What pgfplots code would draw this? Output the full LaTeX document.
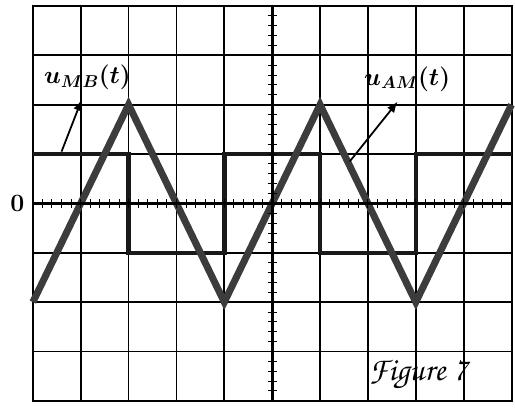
\documentclass[border=0pt]{standalone}
\usepackage{pgfplots}
\pgfplotsset{compat=1.18}
\usepackage{amsmath,bm}
\usetikzlibrary{arrows.meta}
\definecolor{trace}{HTML}{3C3C3C}
\begin{document}
\begin{tikzpicture}
% screen grid with the traces
\begin{axis}[
  x=48.1pt, y=49.6pt,
  xmin=0, xmax=10, ymin=-4, ymax=4,
  xtick={0,...,10}, ytick={-4,...,4},
  xticklabels={}, yticklabels={},
  major tick length=0pt,
  grid=major,
  grid style={black, line width=1.8pt},
  axis line style={black, line width=2pt},
  clip=false,
]
% u_MB(t): square wave
\addplot[color=black!90, line width=4.5pt] coordinates {
  (0,1) (2,1) (2,-1) (4,-1) (4,1) (6,1) (6,-1) (8,-1) (8,1) (10,1)};
% u_AM(t): triangle wave
\addplot[color=trace, line width=7pt] coordinates {
  (0,-2) (2,2) (4,-2) (6,2) (8,-2) (10,2)};

\draw[-{Latex[length=11pt,width=9pt]}, line width=1.8pt] (axis cs:0.6,1.05) -- (axis cs:1.02,2.1);
\draw[-{Latex[length=11pt,width=9pt]}, line width=1.8pt] (axis cs:6.62,0.85) -- (axis cs:7.62,2.06);
\node[font=\fontsize{25}{27}\selectfont] at (axis cs:1.14,2.55) {$\bm{u_{MB}(t)}$};
\node[font=\fontsize{25}{27}\selectfont] at (axis cs:7.82,2.52) {$\bm{u_{AM}(t)}$};
\node[font=\fontencoding{T1}\fontfamily{pzc}\fontsize{33}{36}\selectfont] at (axis cs:8.05,-3.47) {Figure 7};
\node[anchor=east, font=\bfseries\fontsize{25}{27}\selectfont, inner sep=0pt] at (axis cs:-0.17,0) {0};
\end{axis}
% centre lines with small divisions
\begin{axis}[
  x=48.1pt, y=49.6pt,
  xmin=-5, xmax=5, ymin=-4, ymax=4,
  axis lines=middle,
  axis line style={-, black, line width=3.2pt},
  xtick={-5,...,5}, ytick={-4,...,4},
  minor tick num=4,
  xticklabels={}, yticklabels={},
  tick align=center,
  major tick length=9pt, minor tick length=9pt,
  tick style={black, line width=1pt},
]
\end{axis}
\path (current axis.south west) ++(-33pt,-6pt) rectangle ([shift={(2pt,6pt)}]current axis.north east);
\end{tikzpicture}
\end{document}
